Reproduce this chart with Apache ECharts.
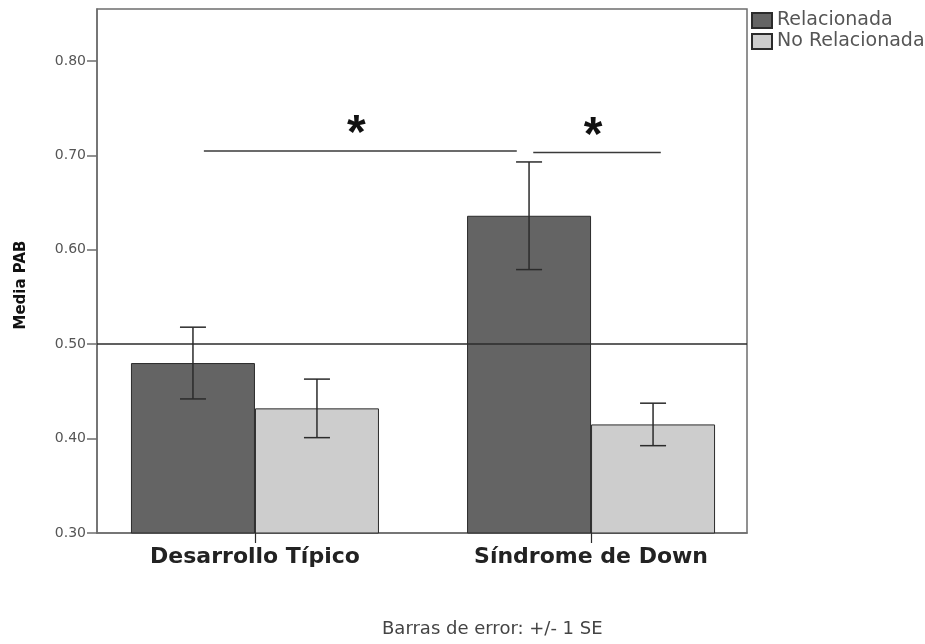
<!DOCTYPE html>
<html>
<head>
<meta charset="utf-8">
<script src="https://cdn.jsdelivr.net/npm/echarts@6/dist/echarts.min.js"></script>
<style>
  html, body { margin: 0; padding: 0; background: #fff; }
  #chart { width: 925px; height: 644px; }
</style>
</head>
<body>
<div id="chart"></div>
<script>
// ---- data ----
const categories = ['Desarrollo Típico', 'Síndrome de Down'];
const seriesNames = ['Relacionada', 'No Relacionada'];
const relMean = [0.480, 0.636];
const relSE = [0.038, 0.057];
const noRelMean = [0.432, 0.415];
const noRelSE = [0.031, 0.0225];
const yTicks = [0.30, 0.40, 0.50, 0.60, 0.70, 0.80];
const refValue = 0.50;
// significance brackets: [start x, end x, y] with categories at x = 0, 1
const sigLines = [[-0.152, 0.779, 0.7047], [0.828, 1.2075, 0.7029]];
const sigLabel = '*';
const yName = 'Media PAB';
const footnote = 'Barras de error: +/- 1 SE';

// ---- layout / style ----
const X_MIN = -0.470, X_MAX = 1.464;
const Y_MIN = 0.30, Y_MAX = 0.855;
const BAR_W = 124;
const CAP_HALF = 13;
const FRAME = '#6e6e6e';
const INK = '#2b2b2b';
const catPos = categories.map((_, i) => i);

function errorBars(means, ses, side) {
  return {
    type: 'custom',
    silent: true,
    z: 6,
    encode: { x: 0, y: [1, 2] },
    data: means.map((m, i) => [catPos[i], m - ses[i], m + ses[i]]),
    renderItem: function (params, api) {
      const lo = api.coord([api.value(0), api.value(1)]);
      const hi = api.coord([api.value(0), api.value(2)]);
      const x = lo[0] + side * BAR_W / 2;
      const ls = { stroke: INK, lineWidth: 1.5 };
      return {
        type: 'group',
        children: [
          { type: 'line', shape: { x1: x, y1: lo[1], x2: x, y2: hi[1] }, style: ls },
          { type: 'line', shape: { x1: x - CAP_HALF, y1: hi[1], x2: x + CAP_HALF, y2: hi[1] }, style: ls },
          { type: 'line', shape: { x1: x - CAP_HALF, y1: lo[1], x2: x + CAP_HALF, y2: lo[1] }, style: ls }
        ]
      };
    }
  };
}

const chart = echarts.init(document.getElementById('chart'), null, { renderer: 'canvas' });

chart.setOption({
  animation: false,
  backgroundColor: '#ffffff',
  title: {
    text: footnote,
    left: 382,
    top: 620,
    padding: 0,
    textStyle: { fontFamily: 'DejaVu Sans', fontSize: 18, fontWeight: 'normal', color: '#444' }
  },
  legend: {
    orient: 'vertical',
    left: 751,
    top: 11,
    padding: 0,
    itemWidth: 20,
    itemHeight: 15,
    itemGap: 2,
    icon: 'rect',
    data: seriesNames,
    textStyle: { fontFamily: 'DejaVu Sans', fontSize: 19, color: '#555' }
  },
  grid: {
    left: 97, right: 178, top: 9, bottom: 111,
    show: true,
    borderColor: FRAME,
    borderWidth: 1.5,
    outerBoundsMode: 'none'
  },
  xAxis: {
    type: 'value',
    min: X_MIN,
    max: X_MAX,
    splitLine: { show: false },
    axisLine: { show: true, onZero: false, lineStyle: { color: FRAME, width: 1.5 } },
    axisTick: { show: true, customValues: catPos, length: 10, lineStyle: { color: INK, width: 1.2 } },
    axisLabel: {
      customValues: catPos,
      formatter: v => categories[Math.round(v)],
      margin: 13,
      fontFamily: 'DejaVu Sans',
      fontSize: 22,
      fontWeight: 'bold',
      color: '#222'
    }
  },
  yAxis: {
    type: 'value',
    min: Y_MIN,
    max: Y_MAX,
    name: yName,
    nameLocation: 'middle',
    nameGap: 68,
    nameTextStyle: {
      fontFamily: 'DejaVu Sans', fontSize: 15, fontWeight: 'bold', color: '#111',
      padding: [0, 28, 0, 0]
    },
    splitLine: { show: false },
    axisLine: { show: true, onZero: false, lineStyle: { color: FRAME, width: 1.5 } },
    axisTick: { show: true, customValues: yTicks, length: 10, lineStyle: { color: FRAME, width: 1.5 } },
    axisLabel: {
      customValues: yTicks,
      formatter: v => v.toFixed(2),
      margin: 11,
      fontFamily: 'DejaVu Sans',
      fontSize: 14,
      color: '#555'
    }
  },
  series: [
    {
      type: 'bar',
      name: seriesNames[0],
      data: relMean.map((v, i) => [catPos[i], v]),
      barWidth: BAR_W,
      barGap: '0%',
      itemStyle: { color: '#646464', borderColor: INK, borderWidth: 1 },
      markLine: {
        silent: true,
        symbol: 'none',
        label: { show: false },
        lineStyle: { color: INK, width: 1.5, type: 'solid' },
        data: [{ yAxis: refValue }],
        z: 5
      }
    },
    {
      type: 'bar',
      name: seriesNames[1],
      data: noRelMean.map((v, i) => [catPos[i], v]),
      barWidth: BAR_W,
      barGap: '0%',
      itemStyle: { color: '#cdcdcd', borderColor: INK, borderWidth: 1 }
    },
    errorBars(relMean, relSE, -1),
    errorBars(noRelMean, noRelSE, 1),
    {
      type: 'custom',
      silent: true,
      z: 7,
      encode: { x: [0, 1], y: 2 },
      data: sigLines,
      renderItem: function (params, api) {
        const a = api.coord([api.value(0), api.value(2)]);
        const b = api.coord([api.value(1), api.value(2)]);
        return {
          type: 'group',
          children: [
            { type: 'line', shape: { x1: a[0], y1: a[1], x2: b[0], y2: b[1] },
              style: { stroke: '#3a3a3a', lineWidth: 1.5 } },
            { type: 'text', x: (a[0] + b[0]) / 2 - 4, y: a[1] - 16,
              style: { text: sigLabel, align: 'center', verticalAlign: 'middle',
                       fontFamily: 'Liberation Sans', fontWeight: 'bold', fontSize: 48, fill: '#111' } }
          ]
        };
      }
    }
  ]
});
</script>
</body>
</html>
